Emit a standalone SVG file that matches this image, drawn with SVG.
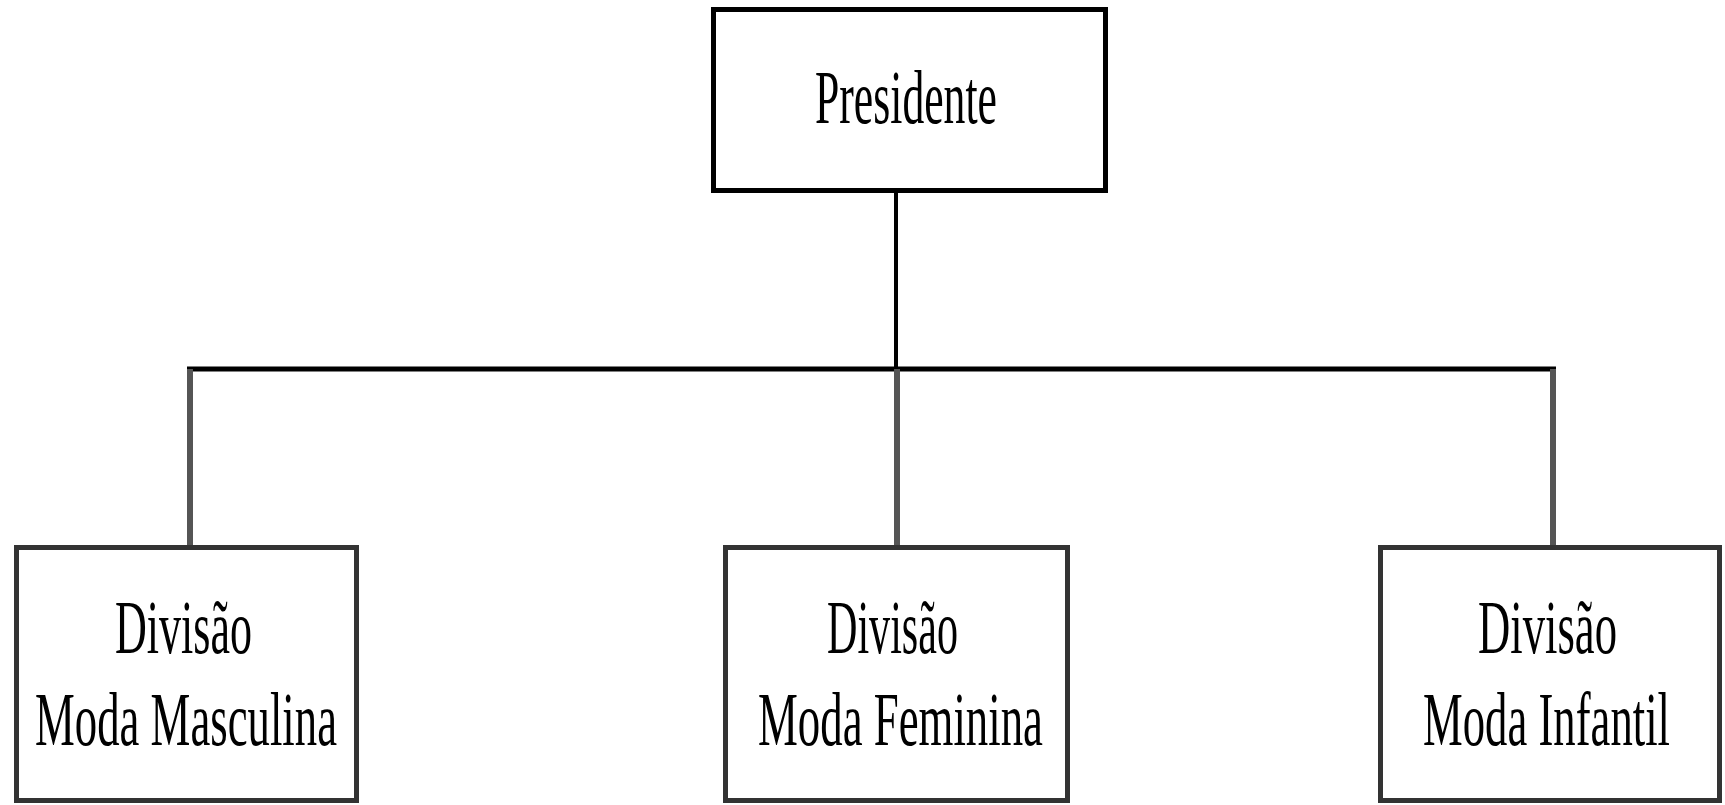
<svg xmlns="http://www.w3.org/2000/svg" width="1725" height="805" viewBox="0 0 1725 805">
<style>
.box{fill:#fff;stroke:#333;stroke-width:5}
.top{stroke:#000}
.lbl{font-family:"Liberation Serif","Times New Roman",serif;font-size:77px;fill:#000;text-anchor:middle}
.conn{stroke:#000;stroke-width:5;fill:none}
.drop{stroke:#555;stroke-width:6;fill:none}
</style>
<rect width="1725" height="805" fill="#fff"/>
<g id="connectors">
<line class="conn" x1="896" y1="193" x2="896" y2="369" style="stroke-width:4"/>
<line class="conn" x1="187" y1="369" x2="1556" y2="369"/>
<line class="drop" x1="190" y1="369" x2="190" y2="546"/>
<line class="drop" x1="897" y1="369" x2="897" y2="546"/>
<line class="drop" x1="1553" y1="369" x2="1553" y2="546"/>
</g>
<g id="presidente">
<rect class="box top" x="713.5" y="9.5" width="392" height="181"/>
<text class="lbl" x="906" y="123" textLength="182" lengthAdjust="spacingAndGlyphs">Presidente</text>
</g>
<g id="moda-masculina">
<rect class="box" x="16.5" y="547.5" width="340" height="253"/>
<text class="lbl" x="183.5" y="653" textLength="137" lengthAdjust="spacingAndGlyphs">Divisão</text>
<text class="lbl" x="186" y="745" textLength="302" lengthAdjust="spacingAndGlyphs">Moda Masculina</text>
</g>
<g id="moda-feminina">
<rect class="box" x="725.5" y="547.5" width="342" height="253"/>
<text class="lbl" x="892.5" y="653" textLength="131" lengthAdjust="spacingAndGlyphs">Divisão</text>
<text class="lbl" x="900.5" y="745" textLength="285" lengthAdjust="spacingAndGlyphs">Moda Feminina</text>
</g>
<g id="moda-infantil">
<rect class="box" x="1380.5" y="547.5" width="339" height="253"/>
<text class="lbl" x="1547.5" y="653" textLength="139" lengthAdjust="spacingAndGlyphs">Divisão</text>
<text class="lbl" x="1546.5" y="745" textLength="247" lengthAdjust="spacingAndGlyphs">Moda Infantil</text>
</g>
</svg>
